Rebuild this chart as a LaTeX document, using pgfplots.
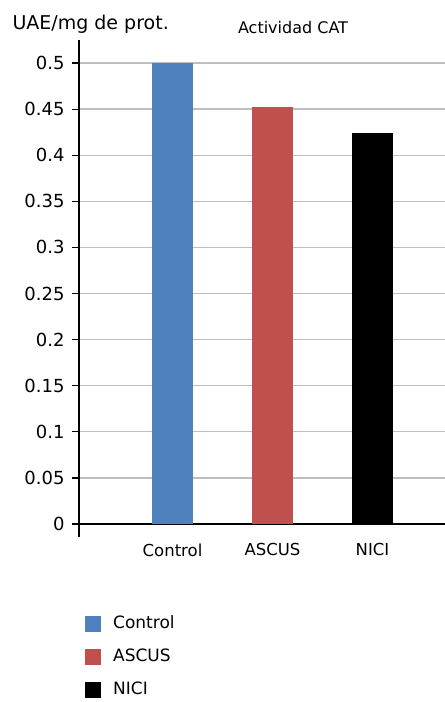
\documentclass[border=0pt]{standalone}
\usepackage{fontspec}
\setmainfont{DejaVu Sans}
\usepackage{pgfplots}
\pgfplotsset{compat=1.18}
\definecolor{ctrlblue}{HTML}{4F81BD}
\definecolor{ascred}{HTML}{C0504D}
\definecolor{gridgray}{HTML}{BEBEBE}
\begin{document}
\begin{tikzpicture}[x=1bp,y=1bp]
\path[use as bounding box] (0,0) rectangle (445,702);
\begin{axis}[
    at={(79bp,178bp)}, anchor=south west,
    scale only axis,
    width=366bp, height=484bp,
    xmin=-0.935, xmax=2.725,
    ymin=0, ymax=0.525,
    axis lines*=left,
    x axis line style={line width=1.4bp, shorten <=-6bp},
    y axis line style={line width=1.4bp, shorten <=-13bp},
    xtick={0,1,2},
    xticklabels={Control,ASCUS,NICI},
    xtick style={draw=none},
    xticklabel style={font=\fontsize{16.5bp}{19bp}\selectfont, yshift=-9bp},
    ytick={0,0.05,0.1,0.15,0.2,0.25,0.3,0.35,0.4,0.45,0.5},
    yticklabels={0,0.05,0.1,0.15,0.2,0.25,0.3,0.35,0.4,0.45,0.5},
    yticklabel style={font=\fontsize{18bp}{21bp}\selectfont, xshift=-4bp},
    y tick style={black, line width=1.2bp},
    tick align=outside,
    major tick length=7bp,
    ymajorgrids=true,
    grid style={gridgray, line width=1.3bp},
    /pgf/number format/assume math mode=true,
    ybar, bar width=41bp, bar shift=0pt,
    legend image code/.code={\fill[#1] (0bp,-8bp) rectangle (16bp,8bp);},
    legend cell align=left,
    legend style={at={(axis description cs:0,0)}, anchor=north west,
        xshift=6bp, yshift=-91bp, draw=none, fill=none, inner sep=0pt,
        row sep=16bp,
        font=\fontsize{17bp}{20bp}\selectfont,
        nodes={inner sep=0pt, text height=13bp, text depth=4bp},
        /tikz/every odd column/.append style={column sep=12bp}},
]
\addplot[fill=ctrlblue, draw=none] coordinates {(0,0.5)};
\addplot[fill=ascred, draw=none] coordinates {(1,0.452)};
\addplot[fill=black, draw=none] coordinates {(2,0.424)};
\legend{Control,ASCUS,NICI}
\end{axis}
\node[anchor=west, font=\fontsize{19bp}{22bp}\selectfont] at (9,678) {UAE/mg de prot.};
\node[font=\fontsize{16bp}{19bp}\selectfont] at (293,674) {Actividad CAT};
\end{tikzpicture}
\end{document}
